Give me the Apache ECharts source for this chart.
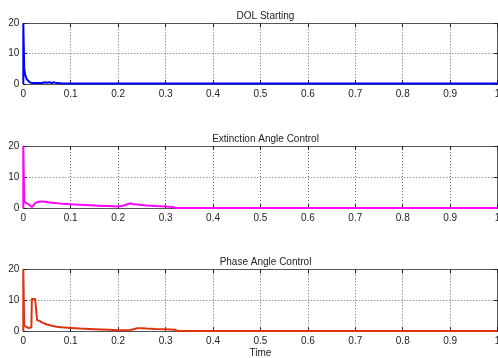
<!DOCTYPE html>
<html>
<head>
<meta charset="utf-8">
<script src="https://cdn.jsdelivr.net/npm/echarts@6/dist/echarts.min.js"></script>
<style>
html,body{margin:0;padding:0;background:#fff;}
#c{width:498px;height:358px;}
</style>
</head>
<body>
<div id="c"></div>
<script>
var titles = ['DOL Starting', 'Extinction Angle Control', 'Phase Angle Control'];
var xTickLabels = ['0','0.1','0.2','0.3','0.4','0.5','0.6','0.7','0.8','0.9','1'];
var yTickLabels = ['0','10','20'];
var xLabel = 'Time';

var dolTime  = [0, 0, 0.002, 0.004, 0.007, 0.010, 0.014, 0.02, 0.03, 0.04, 0.045, 0.05, 0.055, 0.06, 0.065, 0.07, 0.08, 0.1, 0.2, 0.5, 1.0];
var dolValue = [0, 20, 5, 3, 1.6, 1.0, 0.5, 0.3, 0.3, 0.35, 0.6, 0.4, 0.6, 0.35, 0.55, 0.3, 0.25, 0.2, 0.2, 0.2, 0.2];

var extTime  = [0, 0, 0.002, 0.006, 0.010, 0.014, 0.018, 0.022, 0.026, 0.03, 0.035, 0.04, 0.05, 0.06, 0.08, 0.1, 0.12, 0.14, 0.16, 0.18, 0.2, 0.21, 0.22, 0.225, 0.23, 0.24, 0.25, 0.26, 0.28, 0.3, 0.315, 0.32, 0.33, 0.5, 1.0];
var extValue = [0, 20, 2.0, 1.6, 1.4, 0.8, 0.4, 0.6, 1.8, 2.3, 2.2, 2.2, 2.0, 1.8, 1.5, 1.3, 1.1, 1.0, 0.85, 0.7, 0.55, 0.8, 1.3, 1.6, 1.4, 1.2, 1.05, 0.9, 0.7, 0.55, 0.45, 0.1, 0.1, 0.1, 0.1];

var phaseTime  = [0, 0, 0.002, 0.006, 0.01, 0.014, 0.017, 0.018, 0.02, 0.025, 0.027, 0.029, 0.035, 0.04, 0.05, 0.06, 0.07, 0.08, 0.1, 0.12, 0.15, 0.18, 0.2, 0.22, 0.23, 0.24, 0.25, 0.26, 0.28, 0.3, 0.32, 0.325, 0.33, 0.5, 1.0];
var phaseValue = [0, 20, 1.8, 1.3, 1.1, 1.0, 1.2, 10.4, 10.5, 10.4, 10.2, 3.6, 3.3, 2.8, 2.2, 1.8, 1.5, 1.3, 1.1, 0.9, 0.7, 0.5, 0.35, 0.3, 0.6, 1.0, 1.0, 0.9, 0.75, 0.65, 0.5, 0.1, 0.1, 0.1, 0.1];

var seriesTimes = [dolTime, extTime, phaseTime];
var seriesValues = [dolValue, extValue, phaseValue];
var colors = ['#0000ff', '#ff00ff', '#dd3311'];

function pairs(t, v){ return t.map(function(x,i){ return [x, v[i]]; }); }

var tops = [23.3, 146, 269.3];
var heights = [60.7, 62.3, 62];
var FONT = 'Liberation Sans, Arial, sans-serif';
var frameColor = '#555';
var gridColor = '#6a6a6a';

var option = {
  animation: false,
  backgroundColor: '#fff',
  title: [], grid: [], xAxis: [], yAxis: [], series: []
};

for (var i = 0; i < 3; i++) {
  option.title.push({
    text: titles[i], left: 260.5, top: tops[i] - 17, textAlign: 'center',
    textStyle: {fontSize: 10, fontWeight: 'normal', color: '#222', fontFamily: FONT}
  });
  option.grid.push({left: 23.3, top: tops[i], width: 474.3, height: heights[i],
    containLabel: false, outerBoundsMode: 'none'});
  option.xAxis.push({
    type: 'value', gridIndex: i, min: 0, max: 1, interval: 0.1, position: 'bottom',
    name: i === 2 ? xLabel : '', nameLocation: 'middle', nameGap: 17,
    nameTextStyle: {fontSize: 10, color: '#222', fontFamily: FONT},
    axisLine: {show: true, onZero: false, lineStyle: {color: frameColor, width: 1}},
    axisTick: {show: true, inside: true, length: 4, lineStyle: {color: '#222'}},
    axisLabel: {fontSize: 10, color: '#222', margin: 5, fontFamily: FONT, hideOverlap: false,
      formatter: function(v){ var idx = Math.round(v*10); return xTickLabels[idx]; }},
    splitLine: {show: true, lineStyle: {type: [1, 2], color: gridColor, width: 1}}
  });
  option.xAxis.push({
    type: 'value', gridIndex: i, min: 0, max: 1, interval: 0.1, position: 'top',
    axisLine: {show: true, onZero: false, lineStyle: {color: frameColor, width: 1}},
    axisTick: {show: true, inside: true, length: 4, lineStyle: {color: '#222'}},
    axisLabel: {show: false}, splitLine: {show: false}
  });
  option.yAxis.push({
    type: 'value', gridIndex: i, min: 0, max: 20, interval: 10, position: 'left',
    axisLine: {show: true, onZero: false, lineStyle: {color: frameColor, width: 1}},
    axisTick: {show: true, inside: true, length: 4, lineStyle: {color: '#222'}},
    axisLabel: {fontSize: 10, color: '#222', margin: 4, fontFamily: FONT,
      formatter: function(v){ return yTickLabels[Math.round(v/10)]; }},
    splitLine: {show: true, lineStyle: {type: [1, 2], color: gridColor, width: 1}}
  });
  option.yAxis.push({
    type: 'value', gridIndex: i, min: 0, max: 20, interval: 10, position: 'right',
    axisLine: {show: true, onZero: false, lineStyle: {color: frameColor, width: 1}},
    axisTick: {show: true, inside: true, length: 4, lineStyle: {color: '#222'}},
    axisLabel: {show: false}, splitLine: {show: false}
  });
  option.series.push({
    type: 'line', xAxisIndex: 2*i, yAxisIndex: 2*i, data: pairs(seriesTimes[i], seriesValues[i]),
    showSymbol: false, symbol: 'none', clip: true,
    lineStyle: {color: colors[i], width: 2}, itemStyle: {color: colors[i]}, z: 5
  });
}

var chart = echarts.init(document.getElementById('c'), null, {renderer: 'canvas'});
chart.setOption(option);
</script>
</body>
</html>
